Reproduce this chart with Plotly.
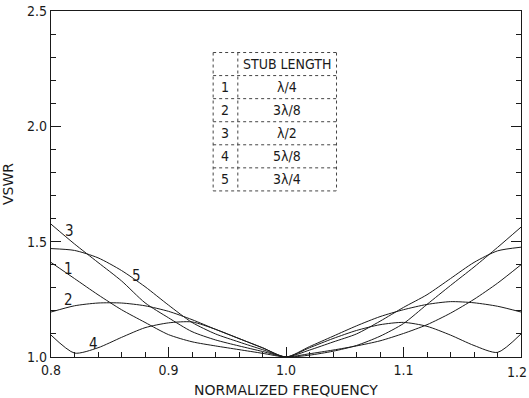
import plotly.graph_objects as go

# ---- data ----
freq = [0.80, 0.82, 0.84, 0.86, 0.88, 0.90, 0.92, 0.94, 0.96, 0.98, 1.00,
        1.02, 1.04, 1.06, 1.08, 1.10, 1.12, 1.14, 1.16, 1.18, 1.20]

vswr_1 = [1.41, 1.34, 1.27, 1.205, 1.15, 1.097, 1.066, 1.048, 1.032, 1.016, 1.0,
          1.014, 1.03, 1.048, 1.07, 1.102, 1.14, 1.19, 1.25, 1.32, 1.40]
vswr_2 = [1.195, 1.222, 1.234, 1.234, 1.222, 1.198, 1.162, 1.12, 1.08, 1.04, 1.0,
          1.045, 1.09, 1.135, 1.175, 1.205, 1.228, 1.24, 1.235, 1.22, 1.195]
vswr_3 = [1.576, 1.49, 1.41, 1.33, 1.235, 1.17, 1.11, 1.074, 1.048, 1.024, 1.0,
          1.008, 1.025, 1.05, 1.09, 1.145, 1.228, 1.31, 1.39, 1.475, 1.563]
vswr_4 = [1.095, 1.017, 1.04, 1.085, 1.127, 1.148, 1.152, 1.12, 1.08, 1.04, 1.0,
          1.04, 1.08, 1.115, 1.14, 1.15, 1.133, 1.095, 1.05, 1.02, 1.10]
vswr_5 = [1.47, 1.462, 1.43, 1.375, 1.305, 1.225, 1.15, 1.10, 1.065, 1.032, 1.0,
          1.03, 1.065, 1.10, 1.155, 1.215, 1.27, 1.34, 1.41, 1.46, 1.476]

curve_ids = ["1", "2", "3", "4", "5"]
stub_lengths = ["λ/4", "3λ/8", "λ/2", "5λ/8", "3λ/4"]
table_header = "STUB LENGTH"

x_ticks = [0.8, 0.9, 1.0, 1.1, 1.2]
y_ticks = [1.0, 1.5, 2.0, 2.5]

# curve label anchor positions (data units)
label_x = [0.815, 0.8145, 0.816, 0.836, 0.873]
label_y = [1.381, 1.246, 1.547, 1.058, 1.351]

# table placement (data units)
tab_x0, tab_xdiv, tab_x1 = 0.938, 0.959, 1.043
tab_top, row_h = 2.32, 0.1

FONT = "DejaVu Sans Condensed, Liberation Sans Narrow, Roboto Condensed, DejaVu Sans, sans-serif"
INK = "#1a1a1a"

fig = go.Figure()
for vals in [vswr_1, vswr_2, vswr_3, vswr_4, vswr_5]:
    fig.add_trace(go.Scatter(x=freq, y=vals, mode="lines",
                             line=dict(color=INK, width=1, shape="spline", smoothing=0.7),
                             showlegend=False, hoverinfo="skip"))

annotations = []
for cid, lx, ly in zip(curve_ids, label_x, label_y):
    annotations.append(dict(x=lx, y=ly, xref="x", yref="y", text=cid, showarrow=False,
                            font=dict(family=FONT, size=15, color=INK)))

# table
shapes = []
n_rows = len(curve_ids) + 1
tab_bottom = tab_top - n_rows * row_h
line_style = dict(color="#444", width=1, dash="dot")
for i in range(n_rows + 1):
    yy = tab_top - i * row_h
    shapes.append(dict(type="line", xref="x", yref="y", x0=tab_x0, x1=tab_x1, y0=yy, y1=yy, line=line_style))
for xx in [tab_x0, tab_xdiv, tab_x1]:
    shapes.append(dict(type="line", xref="x", yref="y", x0=xx, x1=xx, y0=tab_top, y1=tab_bottom, line=line_style))

annotations.append(dict(x=(tab_xdiv + tab_x1) / 2, y=tab_top - row_h / 2, xref="x", yref="y",
                        text=table_header, showarrow=False, font=dict(family=FONT, size=14, color=INK)))
for i, (cid, sl) in enumerate(zip(curve_ids, stub_lengths)):
    yy = tab_top - (i + 1.5) * row_h
    annotations.append(dict(x=(tab_x0 + tab_xdiv) / 2, y=yy, xref="x", yref="y", text=cid,
                            showarrow=False, font=dict(family=FONT, size=14, color=INK)))
    annotations.append(dict(x=(tab_xdiv + tab_x1) / 2, y=yy, xref="x", yref="y", text=sl,
                            showarrow=False, font=dict(family=FONT, size=14, color=INK)))

# last x tick label sits flush with the right edge (as in the reference)
x_ticktext = [f"{v:.1f}" for v in x_ticks]
annotations.append(dict(x=x_ticks[-1], y=0, xref="x", yref="paper", text=x_ticktext[-1],
                        xanchor="right", yanchor="top", xshift=8, yshift=-5, showarrow=False,
                        font=dict(family=FONT, size=14, color=INK)))
x_ticktext[-1] = ""

fig.update_layout(
    width=529, height=398, autosize=False,
    margin=dict(l=51, r=8, t=11, b=41),
    paper_bgcolor="white", plot_bgcolor="white",
    font=dict(family=FONT, size=13, color=INK),
    shapes=shapes, annotations=annotations,
    showlegend=False,
)
fig.update_xaxes(
    range=[0.8, 1.2000001], tickvals=x_ticks, ticktext=x_ticktext,
    ticks="inside", ticklen=10, tickwidth=1, tickcolor=INK,
    minor=dict(dtick=0.02, tick0=0.8, ticks="inside", ticklen=5, tickcolor=INK, showgrid=False),
    showline=True, linecolor=INK, linewidth=1.2, mirror=True,
    showgrid=False, zeroline=False, automargin=False, ticklabeloverflow="allow",
    title=dict(text="NORMALIZED FREQUENCY", font=dict(family="DejaVu Sans", size=14)),
    tickfont=dict(family=FONT, size=14),
)
fig.update_yaxes(
    range=[1.0, 2.5], tickvals=y_ticks, ticktext=[f"{v:.1f}" for v in y_ticks],
    ticks="inside", ticklen=10, tickwidth=1, tickcolor=INK,
    minor=dict(dtick=0.1, tick0=1.0, ticks="inside", ticklen=5, tickcolor=INK, showgrid=False),
    showline=True, linecolor=INK, linewidth=1.2, mirror="allticks",
    showgrid=False, zeroline=False, automargin=False, ticklabeloverflow="allow",
    title=dict(text="VSWR", font=dict(family="DejaVu Sans", size=14)),
    tickfont=dict(family=FONT, size=14),
)

fig.write_html("out.html", config={"displayModeBar": False},
               post_script="document.body.style.margin='0';document.body.style.overflow='hidden';")
